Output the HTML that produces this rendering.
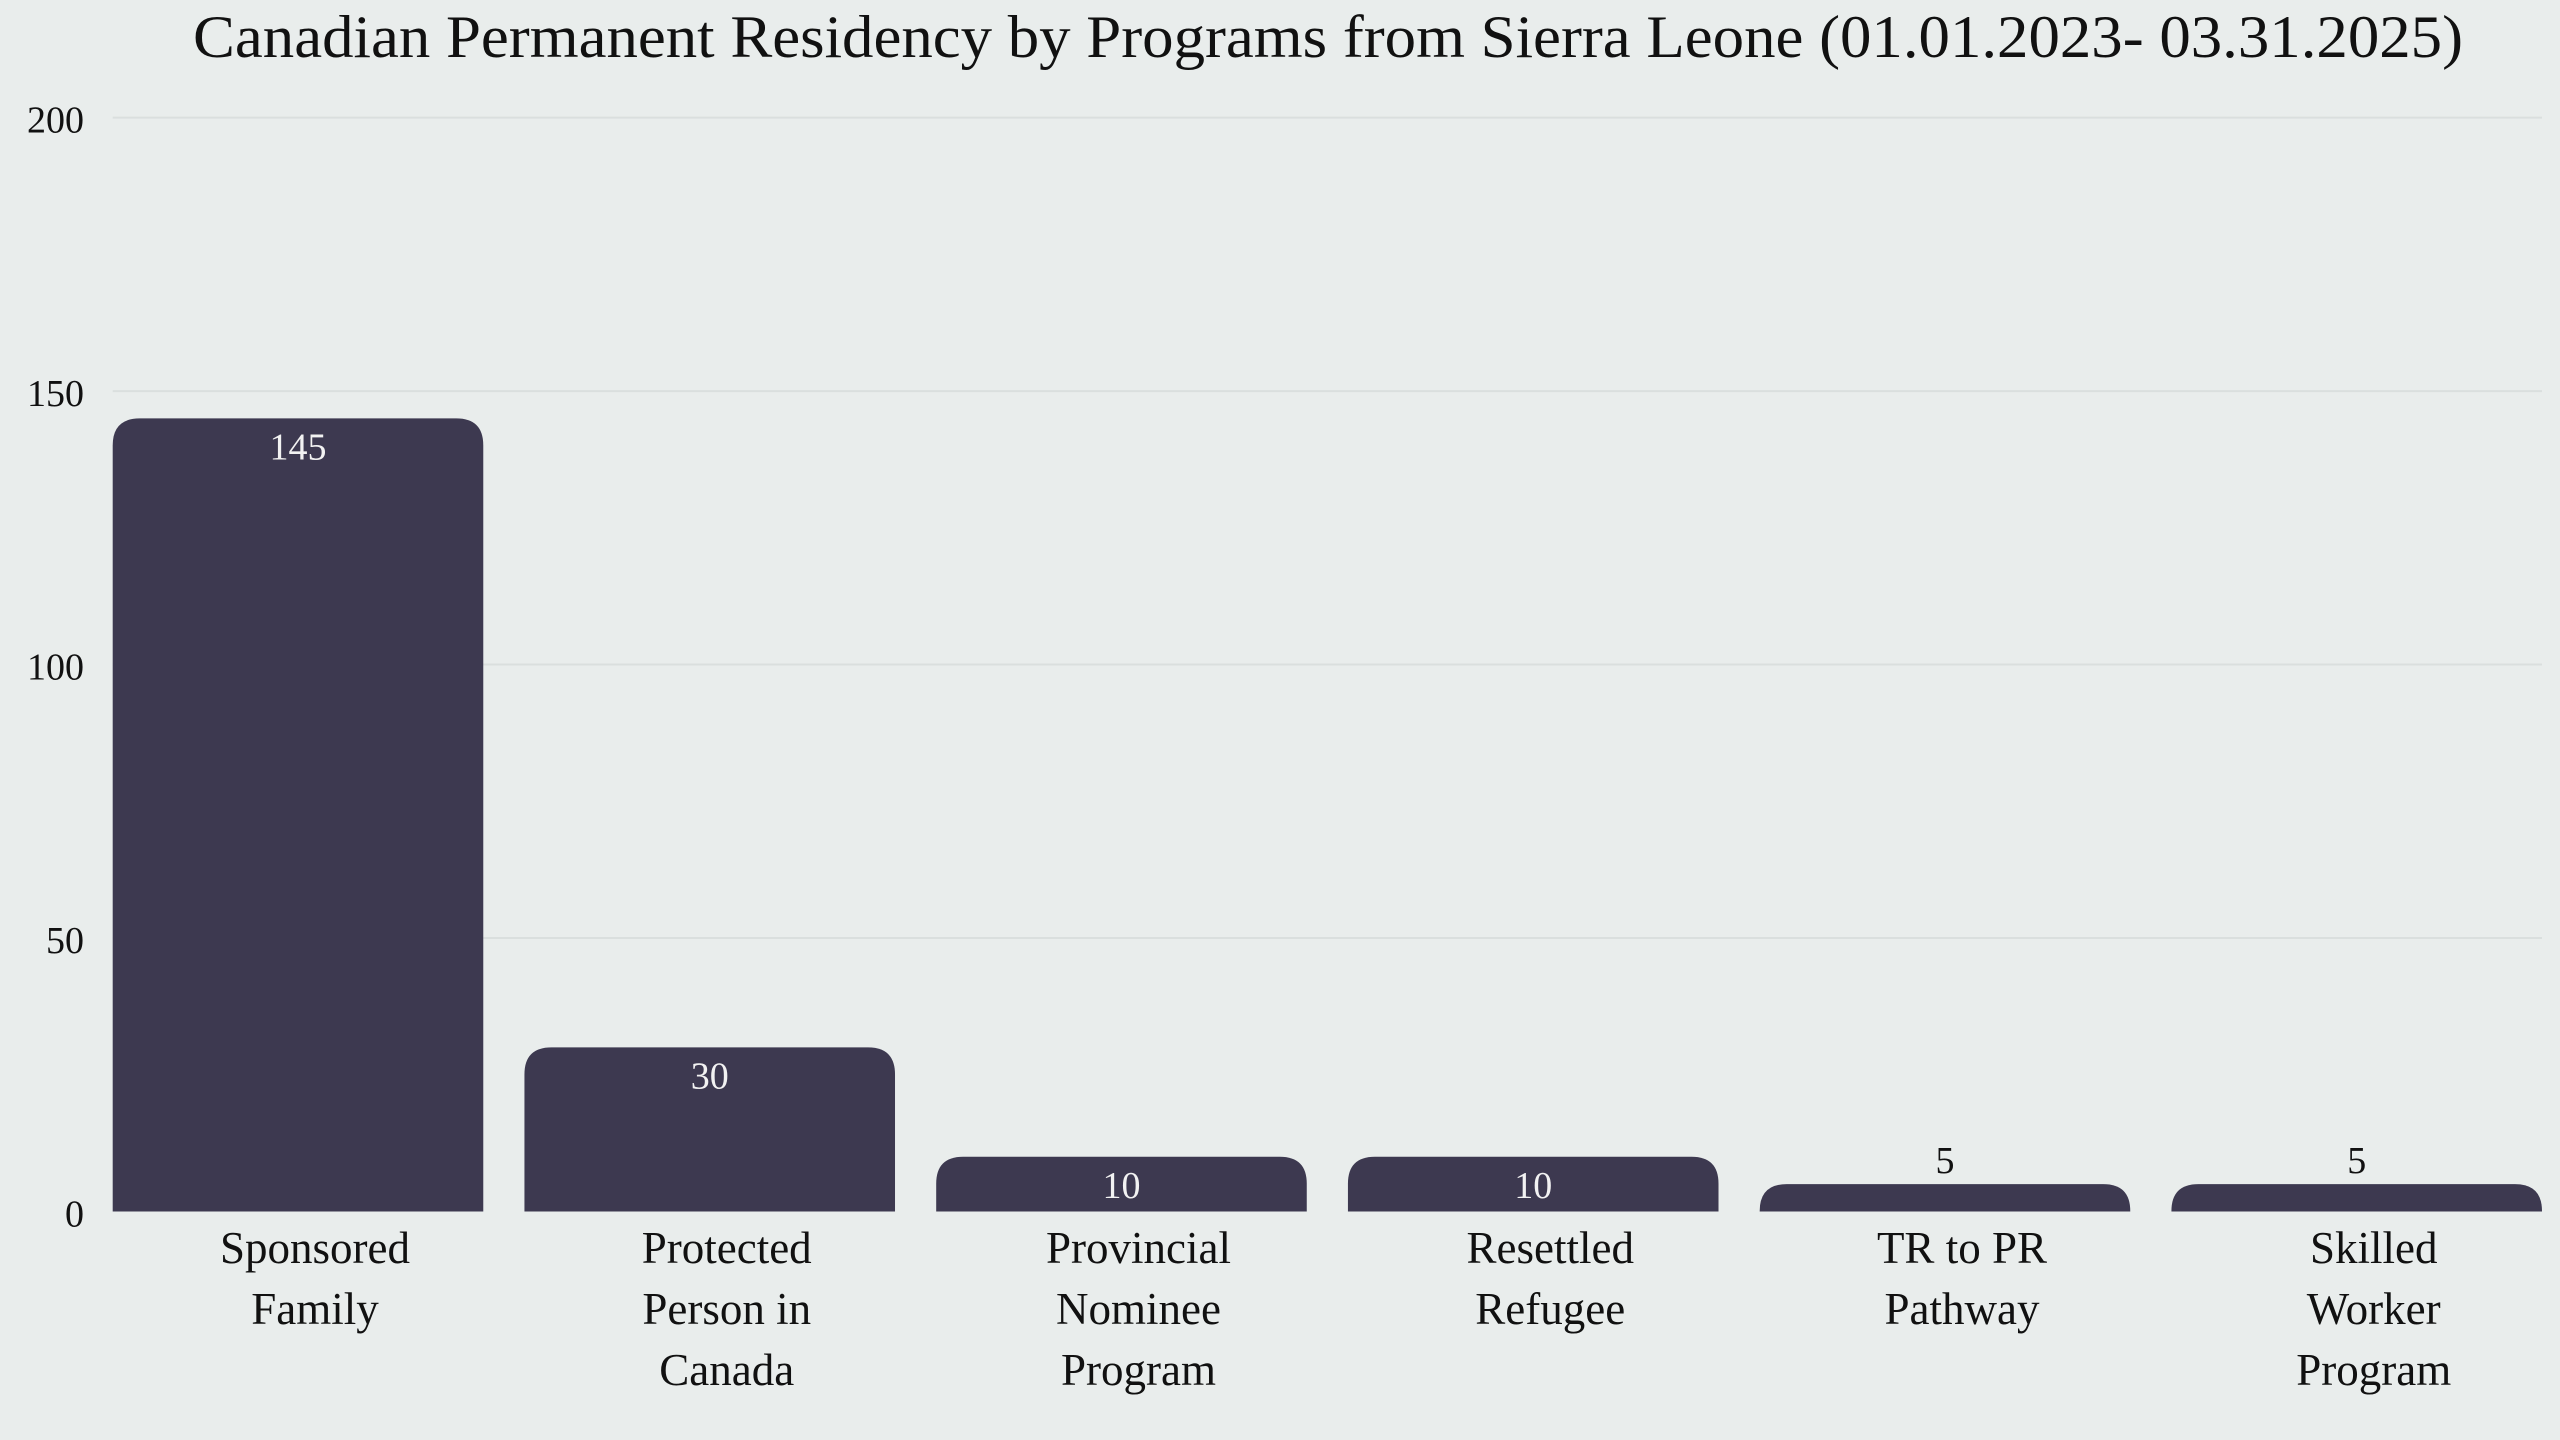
<!DOCTYPE html>
<html><head><meta charset="utf-8"><style>
html,body{margin:0;padding:0;background:#e9edec;}
svg{display:block;font-family:"Liberation Serif",serif;}
</style></head><body>
<svg id="chart" width="2560" height="1440" viewBox="0 0 2560 1440" xmlns="http://www.w3.org/2000/svg">
<rect width="2560" height="1440" fill="#e9edec"/>
<text x="1328" y="57" text-anchor="middle" font-size="60" fill="#111" textLength="2270" lengthAdjust="spacingAndGlyphs">Canadian Permanent Residency by Programs from Sierra Leone (01.01.2023- 03.31.2025)</text>
<g id="grid"></g><g id="bars"></g><g id="labels"></g>
</svg>
<script>
const categories = [["Sponsored","Family"],["Protected","Person in","Canada"],["Provincial","Nominee","Program"],["Resettled","Refugee"],["TR to PR","Pathway"],["Skilled","Worker","Program"]];
const values = [145,30,10,10,5,5];
const ticks = [0,50,100,150,200];

const NS="http://www.w3.org/2000/svg";
const x0=112.7, x1=2542, y0=1211.5, yTop=117.6, yMax=200;
const n=categories.length;
const step=(x1-x0)/(n-0.1);
const bw=step*0.9;
function yScale(v){return y0-(v/yMax)*(y0-yTop);}
function xBand(i){return x0+i*step;}
function mk(tag,attrs,parent){const e=document.createElementNS(NS,tag);for(const k in attrs)e.setAttribute(k,attrs[k]);parent.appendChild(e);return e;}
const grid=document.getElementById('grid'),bars=document.getElementById('bars'),labels=document.getElementById('labels');
ticks.forEach(t=>{
  const y=yScale(t);
  if(t>0){const l=mk('line',{x1:x0,x2:x1,y1:y,y2:y,stroke:'#dadfde','stroke-width':2},grid);
  
  }
  const tx=mk('text',{x:84,y:y+15,'text-anchor':'end','font-size':38,fill:'#111'},grid);
  tx.textContent=t;
  
  
});
values.forEach((v,i)=>{
  const x=xBand(i), y=yScale(v), h=y0-y, r=Math.min(27,h);
  const d=`M${x},${y0} L${x},${y+r} Q${x},${y} ${x+r},${y} L${x+bw-r},${y} Q${x+bw},${y} ${x+bw},${y+r} L${x+bw},${y0} Z`;
  const p=mk('path',{d:d,fill:'#3d3950'},bars);
  
  
  const inside=h>40;
  const vt=mk('text',{x:x+bw/2,y:inside?y+41:y-11,'text-anchor':'middle','font-size':38,fill:inside?'#f2f2f2':'#111'},labels);
  vt.textContent=v;
  
  
  const cg=mk('text',{'text-anchor':'middle','font-size':45,fill:'#111'},labels);
  
  
  categories[i].forEach((line,j)=>{
    const ts=mk('tspan',{x:x+bw/2+17,y:1263+j*61},cg);
    ts.textContent=line;
  });
});
</script>
</body></html>
